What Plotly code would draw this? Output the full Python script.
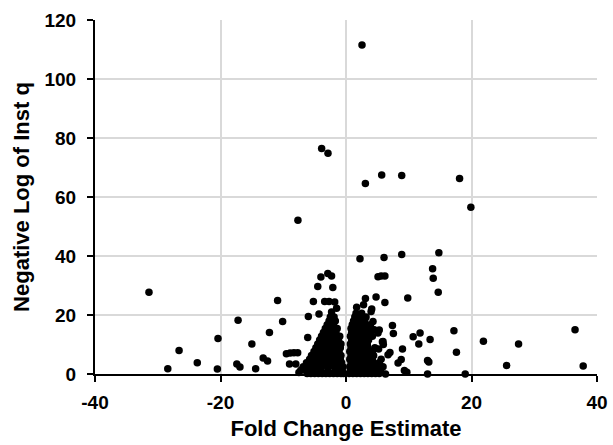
import plotly.graph_objects as go

# Scattered / outlying points (fold change estimate, negative log of inst q)
outlier_fc = [2.55, -3.88, -2.87, 5.69, 8.88, 3.09, 18.1, 19.9, -7.66, 2.23, 6.06, 8.88, 14.8,
              13.8, 13.9, 14.7, -31.4, 5.1, 5.6, 6.2, 9.84, 4.79, 6.2, 3.1, 2.8, 1.7, 4.1, 4.0,
              -10.9, -10.1, -17.2, -12.2, -15.0, -20.4, -26.6, -28.4, -23.7, -20.5, -17.4, -16.9,
              -14.4, -13.2, -12.5, -9.5, -8.9, -8.3, -7.7, -9.0, -8.0, -6.1, -6.0, -5.2, -4.5,
              -4.0, -2.9, -2.3, -2.1, -4.3, -3.4, -2.7, -1.8, -1.5, 7.4, 7.55, 10.7, 11.8, 11.6,
              13.4, 17.2, 17.6, 21.9, 27.5, 36.5, 37.8, 25.6, 19.0, 13.0, 9.0, 13.0, 13.2, 8.8,
              8.3, 9.3, 9.7, 7.0, 6.7, 5.9, 5.95, 5.2, 4.3, 4.5, 5.1, 6.3, 5.3, 5.8, -7.5, -6.9]
outlier_nlq = [111.5, 76.4, 74.8, 67.5, 67.3, 64.6, 66.3, 56.5, 52.1, 39.1, 39.5, 40.5, 41.1,
               35.7, 32.5, 27.7, 27.7, 33.0, 33.2, 33.2, 25.8, 26.1, 24.2, 25.6, 23.5, 22.6, 22.0,
               21.2, 24.9, 17.8, 18.2, 14.1, 10.2, 12.0, 8.0, 1.8, 3.8, 1.7, 3.4, 2.4, 1.8, 5.4,
               4.4, 6.9, 7.1, 7.2, 7.2, 3.4, 3.4, 12.4, 19.5, 24.6, 29.7, 32.9, 34.1, 33.2, 29.3,
               20.3, 24.6, 24.6, 24.4, 22.3, 16.4, 13.7, 12.6, 13.9, 10.2, 11.7, 14.7, 7.4, 11.1,
               10.2, 15.0, 2.7, 2.9, 0.0, 0.0, 8.5, 4.6, 4.1, 4.9, 3.7, 1.2, 0.6, 7.3, 6.5, 11.0,
               10.0, 8.5, 17.8, 15.0, 13.9, 0.0, 14.9, 10.9, 0.5, 1.8]

# Dense cluster of down-regulated features (left of zero)
left_fc = [-6.2, -5.6, -5.0, -4.4, -3.8, -3.2, -2.6, -2.0, -1.4, -0.8, -0.4,
           -7.2, -6.4, -5.3, -4.1, -2.9, -1.7, -0.6,
           -6.8, -5.9, -4.9, -3.9, -2.9, -1.9, -0.9, -0.5,
           -6.3, -5.4, -4.4, -3.4, -2.4, -1.4, -0.7,
           -5.8, -4.8, -3.8, -2.8, -1.8, -0.9,
           -5.5, -4.5, -3.5, -2.5, -1.5, -0.8,
           -5.1, -4.1, -3.1, -2.1, -1.1,
           -4.8, -3.8, -2.8, -1.8, -0.9,
           -4.5, -3.5, -2.5, -1.5, -0.8,
           -4.2, -3.2, -2.2, -1.2,
           -3.9, -2.9, -1.9, -1.0,
           -3.6, -2.6, -1.6,
           -3.3, -2.3, -1.4,
           -3.0, -2.0,
           -2.7, -1.7,
           -2.5, -1.9,
           -2.3]
left_nlq = [0.2, 0.2, 0.2, 0.2, 0.2, 0.2, 0.2, 0.2, 0.2, 0.2, 0.2,
            1.3, 1.3, 1.3, 1.3, 1.3, 1.3, 1.3,
            2.5, 2.5, 2.5, 2.5, 2.5, 2.5, 2.5, 2.5,
            3.8, 3.8, 3.8, 3.8, 3.8, 3.8, 3.8,
            5.0, 5.0, 5.0, 5.0, 5.0, 5.0,
            6.3, 6.3, 6.3, 6.3, 6.3, 6.3,
            7.6, 7.6, 7.6, 7.6, 7.6,
            8.9, 8.9, 8.9, 8.9, 8.9,
            10.2, 10.2, 10.2, 10.2, 10.2,
            11.5, 11.5, 11.5, 11.5,
            12.8, 12.8, 12.8, 12.8,
            14.1, 14.1, 14.1,
            15.4, 15.4, 15.4,
            16.7, 16.7,
            18.0, 18.0,
            19.3, 19.3,
            21.0]

# Dense cluster of up-regulated features (right of zero)
right_fc = [0.5, 1.1, 1.7, 2.3, 2.9, 3.5, 4.1, 4.7, 5.3,
            0.7, 1.5, 2.5, 3.5, 4.5, 5.5,
            0.6, 1.4, 2.3, 3.2, 4.1, 5.0, 5.9,
            0.8, 1.7, 2.6, 3.5, 4.4, 5.3,
            0.6, 1.5, 2.4, 3.3, 4.2, 5.6,
            0.8, 1.7, 2.6, 3.5, 4.4,
            0.6, 1.5, 2.4, 3.3, 4.2,
            0.8, 1.7, 2.6, 3.5, 4.6,
            0.7, 1.6, 2.5, 3.4,
            0.9, 1.8, 2.7, 3.6,
            0.7, 1.6, 2.5, 3.4, 4.2,
            0.9, 1.8, 2.7, 3.6,
            0.8, 1.7, 2.6, 3.5,
            1.0, 1.9, 2.8, 3.9,
            1.2, 2.1, 3.0,
            1.4, 2.3, 3.2,
            1.6, 2.5]
right_nlq = [0.2, 0.2, 0.2, 0.2, 0.2, 0.2, 0.2, 0.2, 0.2,
             1.3, 1.3, 1.3, 1.3, 1.3, 1.3,
             2.5, 2.5, 2.5, 2.5, 2.5, 2.5, 2.5,
             3.8, 3.8, 3.8, 3.8, 3.8, 3.8,
             5.0, 5.0, 5.0, 5.0, 5.0, 5.0,
             6.3, 6.3, 6.3, 6.3, 6.3,
             7.6, 7.6, 7.6, 7.6, 7.6,
             8.9, 8.9, 8.9, 8.9, 8.9,
             10.2, 10.2, 10.2, 10.2,
             11.5, 11.5, 11.5, 11.5,
             12.8, 12.8, 12.8, 12.8, 12.8,
             14.1, 14.1, 14.1, 14.1,
             15.4, 15.4, 15.4, 15.4,
             16.7, 16.7, 16.7, 16.7,
             18.0, 18.0, 18.0,
             19.3, 19.3, 19.3,
             20.6, 20.6]

x_ticks = [-40, -20, 0, 20, 40]
y_ticks = [0, 20, 40, 60, 80, 100, 120]

fc = outlier_fc + left_fc + right_fc
nlq = outlier_nlq + left_nlq + right_nlq

FONT = "Liberation Sans, Arial, sans-serif"

fig = go.Figure()
fig.add_trace(go.Scatter(
    x=fc, y=nlq, mode="markers",
    marker=dict(color="#000000", size=7.5, line=dict(width=0)),
    cliponaxis=False, showlegend=False,
))

axis_common = dict(
    showgrid=True, gridcolor="#d9d9d9", gridwidth=2,
    showline=True, linecolor="#000000", linewidth=2,
    ticks="outside", ticklen=6, tickwidth=2, tickcolor="#000000",
    zeroline=False,
    tickfont=dict(family=FONT, size=19, color="#000000", weight="bold"),
)

fig.update_xaxes(
    range=[-40, 40], tickvals=x_ticks, ticktext=[str(v) for v in x_ticks],
    ticklabelstandoff=4,
    title=dict(text="Fold Change Estimate", standoff=9,
               font=dict(family=FONT, size=22, color="#000000", weight="bold")),
    **axis_common,
)
fig.update_yaxes(
    range=[0, 120], tickvals=y_ticks, ticktext=[str(v) for v in y_ticks],
    ticklabelstandoff=7,
    title=dict(text="Negative Log of Inst q", standoff=9,
               font=dict(family=FONT, size=22, color="#000000", weight="bold")),
    **axis_common,
)

fig.update_layout(
    width=613, height=445,
    margin=dict(l=95, r=16, t=20, b=71, autoexpand=False),
    plot_bgcolor="#ffffff", paper_bgcolor="#ffffff",
)

fig.write_html("out.html", config={"displayModeBar": False},
               post_script="document.body.style.margin='0px';document.body.style.overflow='hidden';")
